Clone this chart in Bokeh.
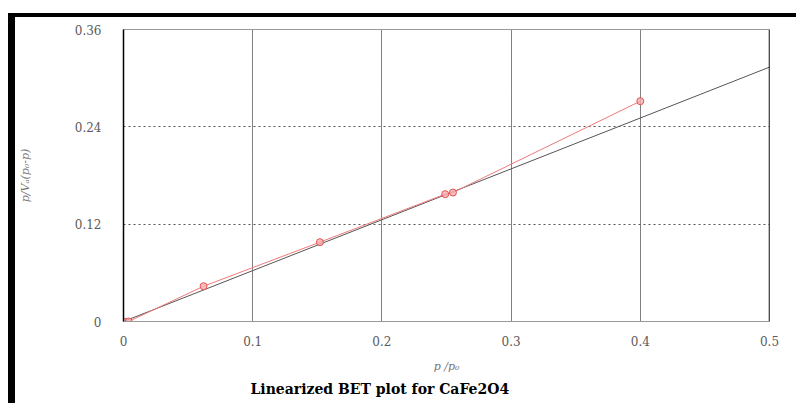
from bokeh.plotting import figure
from bokeh.models import Span, Title, FixedTicker, Div, Spacer
from bokeh.layouts import column, row
from bokeh.embed import file_html
from bokeh.resources import INLINE

# data
p_rel = [0.0, 0.004, 0.062, 0.152, 0.249, 0.255, 0.400]
bet_y = [0.0, 0.0, 0.0435, 0.0978, 0.157, 0.159, 0.2716]
fit_x = [0.0, 0.5]
fit_y = [0.0, 0.3136]
x_ticks = [0, 0.1, 0.2, 0.3, 0.4, 0.5]
y_ticks = [0, 0.12, 0.24, 0.36]
x_grid = [0.1, 0.2, 0.3, 0.4]
y_grid = [0.12, 0.24]

p = figure(width=781, height=386, x_range=(0, 0.5), y_range=(0, 0.36),
           output_backend="svg", toolbar_location=None,
           min_border_left=106, min_border_right=27, min_border_top=12,
           min_border_bottom=82, margin=0)
p.background_fill_color = "white"
p.border_fill_color = "white"
p.outline_line_color = "#9a9a9a"
p.outline_line_width = 1

# axes
p.xaxis.ticker = FixedTicker(ticks=x_ticks)
p.yaxis.ticker = FixedTicker(ticks=y_ticks)
p.xaxis.major_label_overrides = {0: "0", 0.1: "0.1", 0.2: "0.2", 0.3: "0.3", 0.4: "0.4", 0.5: "0.5"}
p.yaxis.major_label_overrides = {0: "0", 0.12: "0.12", 0.24: "0.24", 0.36: "0.36"}
for ax in (p.xaxis[0], p.yaxis[0]):
    ax.major_tick_line_color = None
    ax.minor_tick_line_color = None
    ax.major_label_text_font = "DejaVu Serif"
    ax.major_label_text_font_size = "12px"
    ax.major_label_text_color = "#5a5a5a"
    ax.axis_label_text_font = "DejaVu Serif"
    ax.axis_label_text_font_style = "italic"
    ax.axis_label_text_font_size = "11px"
    ax.axis_label_text_color = "#777777"
p.xaxis.axis_line_color = "#9a9a9a"
p.yaxis.axis_line_color = "black"
p.yaxis.axis_line_width = 1.5
p.xaxis.major_label_standoff = 8
p.yaxis.major_label_standoff = 16
p.xaxis.axis_label = "p /p\u2080"
p.xaxis.axis_label_standoff = 11
p.yaxis.axis_label = "p/V\u2090(p\u2080-p)"
p.yaxis.axis_label_standoff = 40

# grids
p.xgrid.ticker = FixedTicker(ticks=x_grid)
p.xgrid.grid_line_color = "black"
p.xgrid.grid_line_dash = "1 1"
p.xgrid.grid_line_width = 1
p.ygrid.ticker = FixedTicker(ticks=y_grid)
p.ygrid.grid_line_color = "#555555"
p.ygrid.grid_line_dash = "2 3"
p.ygrid.grid_line_width = 1

# right frame edge
p.add_layout(Span(location=0.5, dimension="height", line_color="black", line_width=1.5))

# fitted line and data
p.line(fit_x, fit_y, line_color="#555555", line_width=1)
p.line(p_rel, bet_y, line_color="#f07878", line_width=1)
p.scatter(p_rel, bet_y, marker="circle", size=7, line_color="#e85050",
          fill_color="#f4b0b0", fill_alpha=0.8, line_width=1)

# caption below
p.add_layout(Title(text="Linearized BET plot for CaFe2O4", align="left", offset=127,
                   text_font="DejaVu Serif", text_font_style="bold",
                   text_font_size="14px", text_color="black", standoff=7), "below")

# outer black borders
top_gap = Spacer(width=796, height=13, margin=0)
top_bar = row(Spacer(width=8, height=4, margin=0),
              Div(text="", width=788, height=4, margin=0,
                  styles={"background-color": "black"}),
              spacing=0, margin=0)
body = row(Spacer(width=8, height=386, margin=0),
           Div(text="", width=7, height=386, margin=0,
               styles={"background-color": "black"}),
           p, spacing=0, margin=0)
layout = column(top_gap, top_bar, body, spacing=0, margin=0)

open("out.html", "w").write(file_html(layout, INLINE))
